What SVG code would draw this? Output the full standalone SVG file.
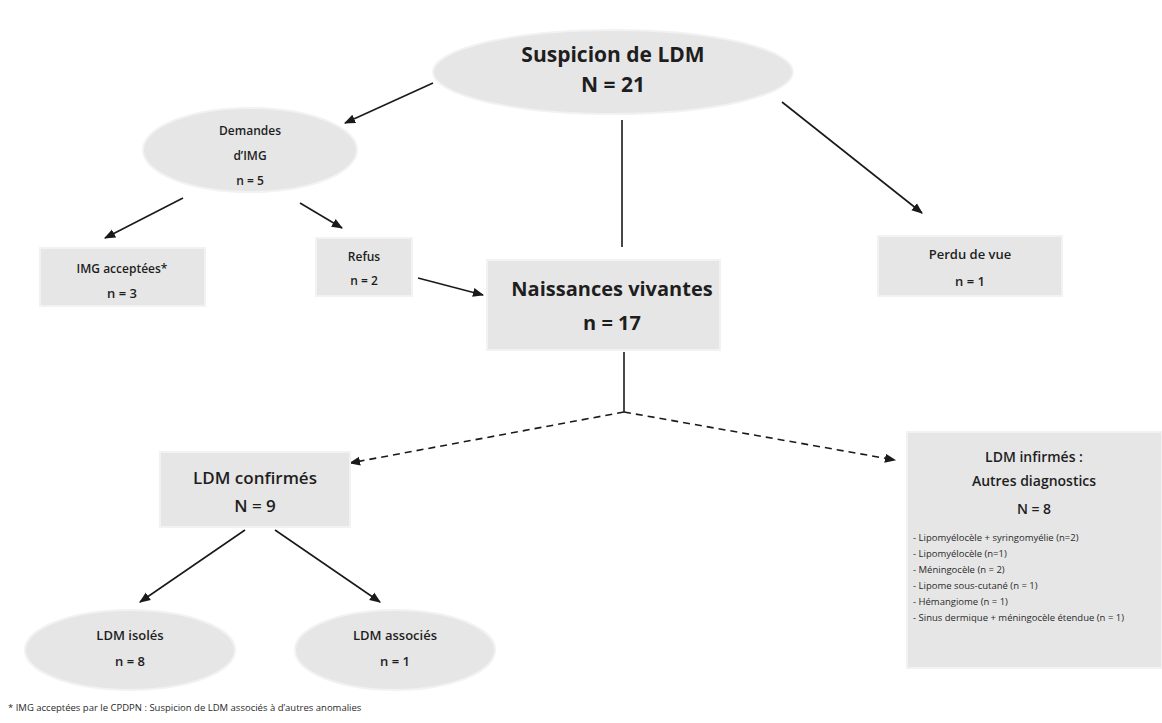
<svg xmlns="http://www.w3.org/2000/svg" width="1162" height="723" viewBox="0 0 1162 723">
<style>
.n{fill:#e6e6e6;stroke:#f2f2f2;stroke-width:2}
.t{font-family:"Open Sans","Liberation Sans",sans-serif;fill:#1e1e1e;text-anchor:middle;font-weight:600}
.b{font-weight:bold}
.s{font-family:"Open Sans","Liberation Sans",sans-serif;fill:#2a2a2a;font-size:9.5px}
.c{stroke:#1a1a1a;stroke-width:1.6;fill:none}
.d{stroke-dasharray:7 5}
</style>
<defs>
<marker id="a" viewBox="0 0 10 10" refX="9" refY="5" markerWidth="7" markerHeight="7" orient="auto-start-reverse"><path d="M0,1 L10,5 L0,9 z" fill="#1a1a1a"/></marker>
</defs>
<rect width="1162" height="723" fill="#fff"/>
<g id="connectors">
<line class="c" x1="433" y1="83" x2="345" y2="123" marker-end="url(#a)"/>
<line class="c" x1="782" y1="102" x2="922" y2="213" marker-end="url(#a)"/>
<line class="c" x1="622" y1="120" x2="622" y2="247"/>
<line class="c" x1="183" y1="198" x2="105" y2="238" marker-end="url(#a)"/>
<line class="c" x1="300" y1="203" x2="342" y2="228" marker-end="url(#a)"/>
<line class="c" x1="418" y1="278" x2="483" y2="295" marker-end="url(#a)"/>
<line class="c" x1="624" y1="352" x2="624" y2="412"/>
<line class="c d" x1="624" y1="412" x2="350" y2="463" marker-end="url(#a)"/>
<line class="c d" x1="624" y1="412" x2="895" y2="460" marker-end="url(#a)"/>
<line class="c" x1="245" y1="530" x2="140" y2="602" marker-end="url(#a)"/>
<line class="c" x1="275" y1="530" x2="380" y2="602" marker-end="url(#a)"/>
</g>
<g id="suspicion">
<ellipse class="n" cx="613" cy="72" rx="180" ry="42"/>
<text class="t b" x="613" y="62" font-size="21">Suspicion de LDM</text>
<text class="t b" x="613" y="92" font-size="21">N = 21</text>
</g>
<g id="demandes">
<ellipse class="n" cx="250" cy="150" rx="107" ry="42"/>
<text class="t" x="250" y="135" font-size="12">Demandes</text>
<text class="t" x="250" y="160" font-size="12">d’IMG</text>
<text class="t" x="250" y="185" font-size="12">n = 5</text>
</g>
<g id="img">
<rect class="n" x="40" y="248" width="165" height="58"/>
<text class="t" x="122" y="273" font-size="12">IMG acceptées*</text>
<text class="t" x="122" y="298" font-size="13">n = 3</text>
</g>
<g id="refus">
<rect class="n" x="316" y="238" width="96" height="58"/>
<text class="t" x="364" y="261" font-size="12">Refus</text>
<text class="t" x="364" y="285" font-size="12">n = 2</text>
</g>
<g id="naissances">
<rect class="n" x="487" y="260" width="233" height="90"/>
<text class="t b" x="612" y="296" font-size="20">Naissances vivantes</text>
<text class="t b" x="612" y="330" font-size="20">n = 17</text>
</g>
<g id="perdu">
<rect class="n" x="878" y="236" width="184" height="60"/>
<text class="t" x="970" y="259" font-size="13">Perdu de vue</text>
<text class="t" x="970" y="286" font-size="13">n = 1</text>
</g>
<g id="confirmes">
<rect class="n" x="160" y="452" width="190" height="75"/>
<text class="t" x="255" y="484" font-size="17">LDM confirmés</text>
<text class="t" x="255" y="512" font-size="17">N = 9</text>
</g>
<g id="infirmes">
<rect class="n" x="907" y="432" width="255" height="236"/>
<text class="t" x="1034" y="462" font-size="14">LDM infirmés :</text>
<text class="t" x="1034" y="486" font-size="14">Autres diagnostics</text>
<text class="t" x="1034" y="514" font-size="14">N = 8</text>
<text class="s" x="913" y="541">- Lipomyélocèle + syringomyélie (n=2)</text>
<text class="s" x="913" y="557">- Lipomyélocèle (n=1)</text>
<text class="s" x="913" y="573">- Méningocèle (n = 2)</text>
<text class="s" x="913" y="589">- Lipome sous-cutané (n = 1)</text>
<text class="s" x="913" y="605">- Hémangiome (n = 1)</text>
<text class="s" x="913" y="621">- Sinus dermique + méningocèle étendue (n = 1)</text>
</g>
<g id="isoles">
<ellipse class="n" cx="130" cy="650" rx="105" ry="40"/>
<text class="t" x="130" y="640" font-size="13">LDM isolés</text>
<text class="t" x="130" y="666" font-size="13">n = 8</text>
</g>
<g id="associes">
<ellipse class="n" cx="395" cy="650" rx="100" ry="40"/>
<text class="t" x="395" y="640" font-size="13">LDM associés</text>
<text class="t" x="395" y="666" font-size="13">n = 1</text>
</g>
<g id="footnote">
<text class="s" x="8" y="711" font-size="10">* IMG acceptées par le CPDPN : Suspicion de LDM associés à d’autres anomalies</text>
</g>
</svg>
